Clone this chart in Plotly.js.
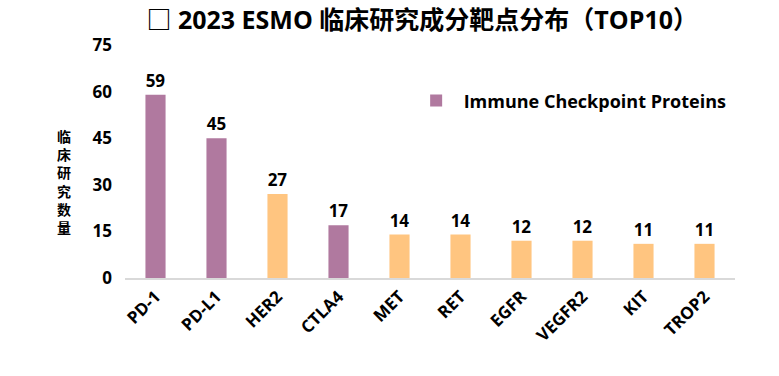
<!DOCTYPE html>
<html><head><meta charset="utf-8">
<script src="https://cdn.plot.ly/plotly-3.0.1.min.js"></script>
<style>body{margin:0;background:#fff}#c{width:779px;height:376px}</style>
</head><body><div id="c"></div>
<script>
const categories = ["PD-1","PD-L1","HER2","CTLA4","MET","RET","EGFR","VEGFR2","KIT","TROP2"];
const values = [59,45,27,17,14,14,12,12,11,11];
const immune = [true,true,false,true,false,false,false,false,false,false];
const yTicks = [0,15,30,45,60,75];
const legendName = "Immune Checkpoint Proteins";
const yTitleChars = ["临","床","研","究","数","量"];
const purple = "#b0799f", orange = "#ffc580";

const fnt = "'Open Sans','Noto Sans CJK SC',sans-serif";
const ix = categories.filter((c,i)=>immune[i]), iy = values.filter((v,i)=>immune[i]);
const ox = categories.filter((c,i)=>!immune[i]), oy = values.filter((v,i)=>!immune[i]);
const common = {type:"bar", texttemplate:"%{y}", textposition:"outside", cliponaxis:false,
  textfont:{size:17, color:"#000", family:fnt, weight:700}};
const traces = [
  Object.assign({x:ix, y:iy, name:legendName, marker:{color:purple}}, common),
  Object.assign({x:ox, y:oy, name:"Other", showlegend:false, marker:{color:orange}}, common)
];
const layout = {
  width:779, height:376,
  margin:{l:125, r:44, t:45, b:98},
  barmode:"overlay", bargap:0.67,
  paper_bgcolor:"#fff", plot_bgcolor:"#fff",
  font:{family:fnt, color:"#000"},
  title:{text:"□ 2023 ESMO 临床研究成分靶点分布（TOP10）", x:0.542, xanchor:"center", y:0.945, yanchor:"middle",
    font:{size:25, weight:700, family:fnt, color:"#000"}},
  xaxis:{type:"category", categoryorder:"array", categoryarray:categories, tickangle:-45,
    showline:true, linecolor:"#d9d9d9", linewidth:2, ticks:"", showgrid:false,
    tickfont:{size:17, weight:700, family:fnt, color:"#000"}},
  yaxis:{range:[0,75], tickvals:yTicks, showgrid:false, zeroline:false, showline:false, ticks:"",
    ticklabelstandoff:12,
    tickfont:{size:17, weight:700, family:fnt, color:"#000"}},
  showlegend:true,
  legend:{x:0.465, y:0.76, xanchor:"left", yanchor:"middle", bgcolor:"rgba(0,0,0,0)",
    itemwidth:45,
    font:{size:18, weight:700, family:fnt, color:"#000"}},
  annotations:[{text:yTitleChars.join("<br>"), xref:"paper", yref:"paper", x:-0.1, y:(278-181)/233,
    xanchor:"center", yanchor:"middle", showarrow:false,
    font:{size:14, weight:700, family:"'Noto Sans CJK SC',sans-serif", color:"#000"}}]
};
Plotly.newPlot("c", traces, layout, {displayModeBar:false});
</script></body></html>
